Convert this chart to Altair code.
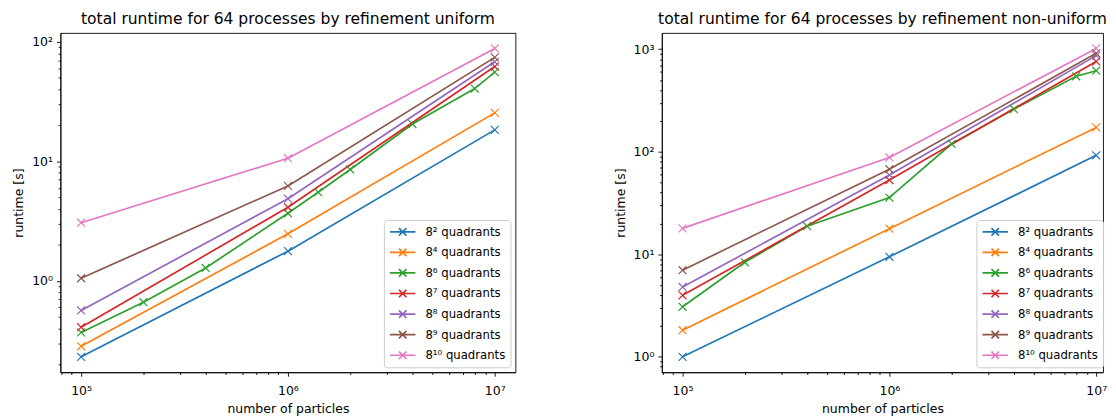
import math
import altair as alt
import pandas as pd

# ---------------- data ----------------
SERIES = ["8² quadrants", "8⁴ quadrants", "8⁶ quadrants", "8⁷ quadrants",
          "8⁸ quadrants", "8⁹ quadrants", "8¹⁰ quadrants"]
COLORS = ["#1f77b4", "#ff7f0e", "#2ca02c", "#d62728", "#9467bd", "#8c564b", "#e377c2"]

particles_std = [1e5, 1e6, 1e7]
particles_uni_q6 = [1e5, 2e5, 4e5, 1e6, 1.4e6, 2e6, 4e6, 8e6, 1e7]
particles_non_q6 = [1e5, 2e5, 4e5, 1e6, 2e6, 4e6, 8e6, 1e7]

# uniform refinement
uni_q2 = [0.231, 1.77, 18.3]
uni_q4 = [0.283, 2.47, 25.4]
uni_q6 = [0.370, 0.662, 1.28, 3.67, 5.51, 8.54, 20.5, 40.6, 55.7]
uni_q7 = [0.409, 4.12, 62.0]
uni_q8 = [0.565, 4.86, 68.0]
uni_q9 = [1.05, 6.22, 74.0]
uni_q10 = [3.06, 10.6, 88.0]

# non-uniform refinement
non_q2 = [1.0, 9.46, 92.3]
non_q4 = [1.82, 17.8, 173.0]
non_q6 = [3.08, 8.36, 18.8, 35.8, 119.7, 260.0, 545.0, 618.0]
non_q7 = [3.98, 53.0, 760.0]
non_q8 = [4.8, 59.3, 867.0]
non_q9 = [7.0, 67.6, 914.0]
non_q10 = [17.9, 88.0, 1020.0]

TITLE_UNI = "total runtime for 64 processes by refinement uniform"
TITLE_NON = "total runtime for 64 processes by refinement non-uniform"
X_TITLE = "number of particles"
Y_TITLE = "runtime [s]"


def build(series_lists):
    rows = []
    for name, xs, ys in series_lists:
        for xv, yv in zip(xs, ys):
            rows.append({"series": name, "particles": xv, "runtime": yv})
    return pd.DataFrame(rows)


df_uni = build([
    (SERIES[0], particles_std, uni_q2),
    (SERIES[1], particles_std, uni_q4),
    (SERIES[2], particles_uni_q6, uni_q6),
    (SERIES[3], particles_std, uni_q7),
    (SERIES[4], particles_std, uni_q8),
    (SERIES[5], particles_std, uni_q9),
    (SERIES[6], particles_std, uni_q10),
])
df_non = build([
    (SERIES[0], particles_std, non_q2),
    (SERIES[1], particles_std, non_q4),
    (SERIES[2], particles_non_q6, non_q6),
    (SERIES[3], particles_std, non_q7),
    (SERIES[4], particles_std, non_q8),
    (SERIES[5], particles_std, non_q9),
    (SERIES[6], particles_std, non_q10),
])

FONT = "DejaVu Sans"
FS = 12.6
LFS = 11.8
TFS = 15.7
PANEL_W = 460
PANEL_H = 343
RIGHT_W = 446

MAJOR = "abs(log(datum.value)/LN10 - round(log(datum.value)/LN10)) < 1e-6"
LABEL_EXPR = ("(" + MAJOR + ") ? '10' + ['⁰','¹','²','³','⁴','⁵','⁶','⁷','⁸','⁹']"
              "[round(log(datum.value)/LN10)] : ''")

X_PATH = "M-1,-1L1,1M-1,1L1,-1"
LEG_PATH = "M-2.1,0L2.1,0M-0.62,-0.62L0.62,0.62M-0.62,0.62L0.62,-0.62"


def log_domain(values, frac=0.05):
    lo = math.log10(min(values))
    hi = math.log10(max(values))
    m = frac * (hi - lo)
    return [10 ** (lo - m), 10 ** (hi + m)]


def log_ticks(dom):
    vals = []
    e0 = math.floor(math.log10(dom[0]))
    e1 = math.ceil(math.log10(dom[1]))
    for e in range(e0, e1 + 1):
        for k in range(1, 10):
            v = float(f"{k}e{e}")
            if dom[0] <= v <= dom[1]:
                vals.append(v)
    return vals


def make_axis(title, values, label_pad, title_pad):
    return alt.Axis(
        title=title, values=values, labelExpr=LABEL_EXPR, grid=False,
        tickSize={"condition": {"test": MAJOR, "value": 4}, "value": 2.3},
        tickColor="black", tickWidth=0.9, domainColor="black", domainWidth=0.9,
        labelFont=FONT, labelFontSize=FS, labelColor="black", labelPadding=label_pad,
        titleFont=FONT, titleFontSize=FS, titleFontWeight="normal", titleColor="black",
        titlePadding=title_pad, labelOverlap=False, labelFlush=False,
    )


def panel(df, title, width, xdom, ydom, legend_x):
    base = alt.Chart(df)
    x = alt.X("particles:Q", scale=alt.Scale(type="log", domain=xdom, nice=False),
              axis=make_axis(X_TITLE, log_ticks(xdom), 8, 6))
    y = alt.Y("runtime:Q", scale=alt.Scale(type="log", domain=ydom, nice=False),
              axis=make_axis(Y_TITLE, log_ticks(ydom), 4, 6))
    legend = alt.Legend(
        title=None, orient="none", legendX=legend_x, legendY=189,
        symbolType=LEG_PATH, symbolSize=150, symbolStrokeWidth=1.7,
        symbolFillColor="transparent", symbolOffset=7, labelOffset=16,
        labelFont=FONT, labelFontSize=LFS, labelColor="black", rowPadding=4.8,
        padding=5, fillColor="white", strokeColor="#cccccc", cornerRadius=3,
    )
    color = alt.Color("series:N", scale=alt.Scale(domain=SERIES, range=COLORS),
                      sort=SERIES, legend=legend)
    lines = base.mark_line(strokeWidth=1.7).encode(x=x, y=y, color=color)
    points = base.mark_point(shape=X_PATH, size=64, filled=False, strokeWidth=1.2,
                             opacity=1).encode(x=x, y=y, color=color)
    return alt.layer(lines, points).properties(
        width=width, height=PANEL_H,
        title=alt.TitleParams(title, font=FONT, fontSize=TFS, fontWeight="normal",
                              color="black", offset=5, anchor="middle"),
    )


all_particles = particles_std + particles_uni_q6 + particles_non_q6
xdom = log_domain(all_particles)
lx0, lx1 = math.log10(xdom[0]), math.log10(xdom[1])
xdom_right = [xdom[0], 10 ** (lx0 + (lx1 - lx0) * RIGHT_W / PANEL_W)]

ydom_uni = log_domain(list(df_uni["runtime"]))
ydom_non = log_domain(list(df_non["runtime"]))

left = panel(df_uni, TITLE_UNI, PANEL_W, xdom, ydom_uni, 327)
right = panel(df_non, TITLE_NON, RIGHT_W, xdom_right, ydom_non, 318)

chart = (
    alt.hconcat(left, right, spacing=98)
    .resolve_scale(x="independent", y="independent", color="independent")
    .resolve_legend(color="independent")
    .properties(padding={"left": 4, "top": 0, "right": 0, "bottom": 0}, background="white")
    .configure_view(stroke="black", strokeWidth=0.9)
)

chart.save("out.html", embed_options={"renderer": "svg", "actions": False})
